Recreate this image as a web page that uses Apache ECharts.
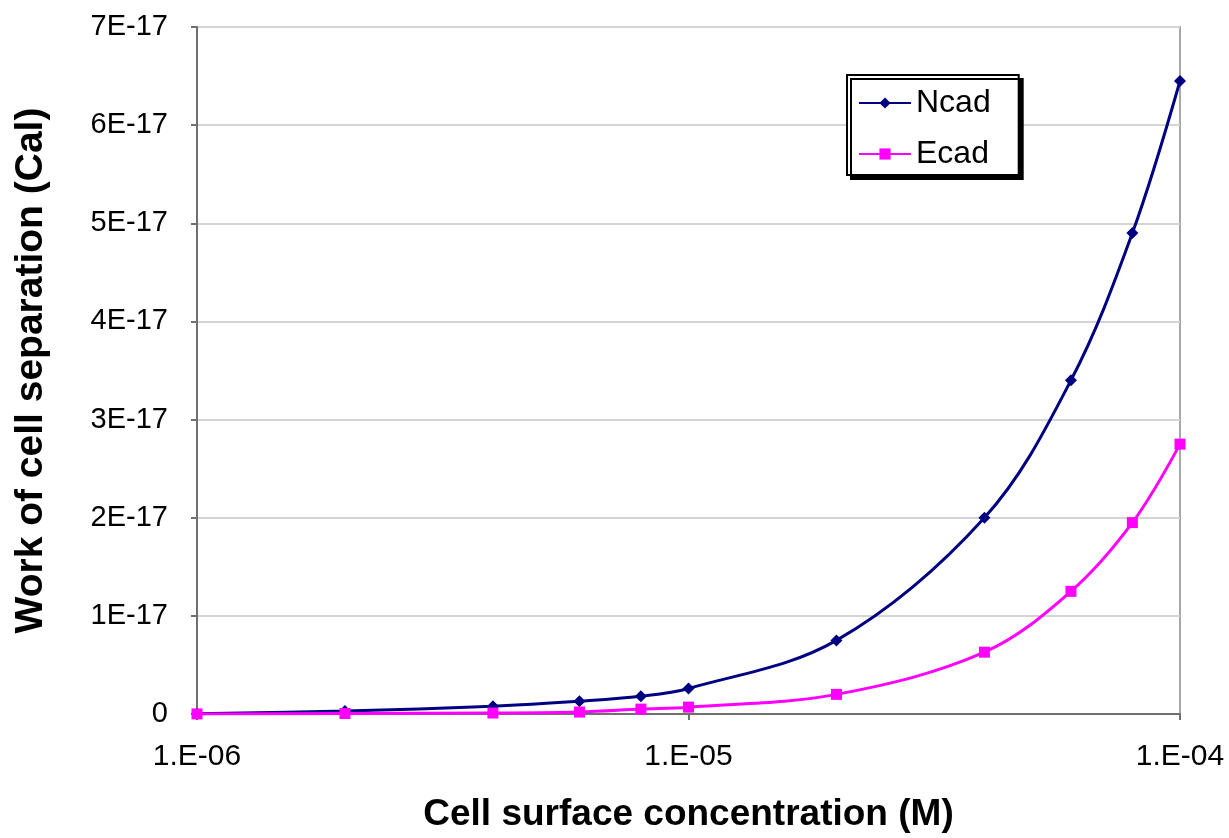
<!DOCTYPE html>
<html><head><meta charset="utf-8">
<script src="https://cdn.jsdelivr.net/npm/echarts@6/dist/echarts.min.js"></script>
<style>html,body{margin:0;padding:0;background:#fff}#c{width:1229px;height:838px}</style>
</head><body><div id="c"></div>
<script>
const concentrations = [1e-6, 2e-6, 4e-6, 6e-6, 8e-6, 1e-5, 2e-5, 4e-5, 6e-5, 8e-5, 1e-4];
const ncad = [0.003e-17, 0.03e-17, 0.08e-17, 0.13e-17, 0.18e-17, 0.26e-17, 0.75e-17, 2.0e-17, 3.4e-17, 4.9e-17, 6.45e-17];
const ecad = [0.001e-17, 0.005e-17, 0.01e-17, 0.02e-17, 0.05e-17, 0.07e-17, 0.2e-17, 0.63e-17, 1.25e-17, 1.95e-17, 2.75e-17];
const seriesNames = ['Ncad', 'Ecad'];
const xTitle = 'Cell surface concentration (M)';
const yTitle = 'Work of cell separation (Cal)';

const FONT = 'Liberation Sans, Arial, sans-serif';
const chart = echarts.init(document.getElementById('c'));
const pair = (ys) => concentrations.map((x, i) => [x, ys[i]]);
chart.setOption({
  animation: false,
  grid: {left: 197, right: 49, top: 27, bottom: 122, show: true, borderColor: '#a8a8a8', borderWidth: 2},
  legend: {
    orient: 'vertical', left: 847, top: 75,
    itemWidth: 52, itemHeight: 14, itemGap: 19,
    padding: [12, 28, 5, 11],
    backgroundColor: '#fff', borderColor: '#000', borderWidth: 2,
    shadowColor: '#000', shadowOffsetX: 4, shadowOffsetY: 4, shadowBlur: 0,
    textStyle: {fontFamily: FONT, fontSize: 32, color: '#000'},
    data: seriesNames
  },
  xAxis: {
    type: 'log', logBase: 10, min: 1e-6, max: 1e-4,
    name: xTitle, nameLocation: 'middle', nameGap: 82,
    nameTextStyle: {fontFamily: FONT, fontSize: 37, fontWeight: 'bold', color: '#000'},
    axisLine: {lineStyle: {color: '#707070', width: 2}},
    axisTick: {show: true, length: 6, lineStyle: {color: '#707070', width: 2}},
    minorTick: {show: false},
    splitLine: {show: false},
    axisLabel: {
      fontFamily: FONT, fontSize: 30, color: '#000', margin: 28,
      formatter: v => '1.E-' + String(Math.round(-Math.log10(v))).padStart(2, '0')
    }
  },
  yAxis: {
    type: 'value', min: 0, max: 7e-17, interval: 1e-17,
    name: yTitle, nameLocation: 'middle', nameGap: 146,
    nameTextStyle: {fontFamily: FONT, fontSize: 39, fontWeight: 'bold', color: '#000'},
    axisLine: {show: true, lineStyle: {color: '#707070', width: 2}},
    axisTick: {show: true, length: 6, lineStyle: {color: '#707070', width: 2}},
    splitLine: {show: true, lineStyle: {color: '#d4d4d4', width: 2}},
    axisLabel: {
      fontFamily: FONT, fontSize: 29, color: '#000', margin: 29,
      formatter: v => { const n = Math.round(v / 1e-17); return n === 0 ? '0' : n + 'E-17'; }
    }
  },
  series: [
    {name: seriesNames[0], type: 'line', smooth: 0.35, data: pair(ncad),
     symbol: 'diamond', symbolSize: 12,
     lineStyle: {color: '#000080', width: 3}, itemStyle: {color: '#000080'}, z: 3},
    {name: seriesNames[1], type: 'line', smooth: 0.35, data: pair(ecad),
     symbol: 'rect', symbolSize: 11,
     lineStyle: {color: '#ff00ff', width: 3}, itemStyle: {color: '#ff00ff'}, z: 4}
  ]
});
</script></body></html>
